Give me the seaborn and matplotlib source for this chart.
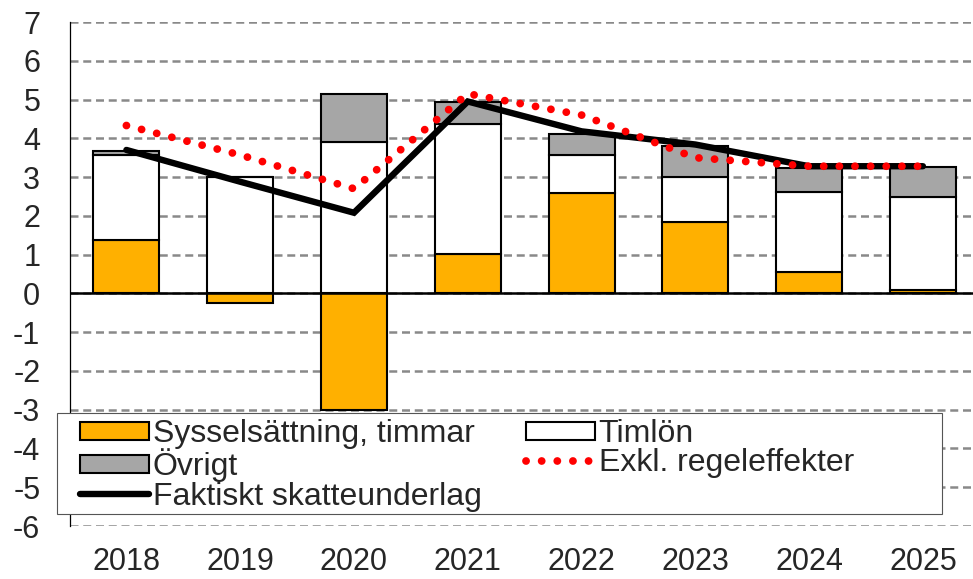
import numpy as np
import matplotlib.pyplot as plt
import seaborn as sns
from matplotlib.patches import Patch, Rectangle
from matplotlib.lines import Line2D

# values (percent change)
years = ['2018', '2019', '2020', '2021', '2022', '2023', '2024', '2025']
sysselsattning = [1.37, -0.25, -3.00, 1.02, 2.58, 1.83, 0.55, 0.10]
timlon = [2.21, 3.00, 3.90, 3.36, 1.00, 1.18, 2.06, 2.39]
ovrigt = [0.10, 0.00, 1.23, 0.56, 0.54, 0.80, 0.62, 0.77]
faktiskt = [3.70, 2.88, 2.08, 4.95, 4.18, 3.84, 3.28, 3.28]
exkl_regel = [4.33, 3.57, 2.70, 5.15, 4.60, 3.50, 3.28, 3.28]

ORANGE = '#FFB000'
GRAY = '#A6A6A6'

sns.set_style('white')
plt.rcParams['font.family'] = ['Liberation Sans', 'DejaVu Sans']
plt.rcParams['axes.unicode_minus'] = False

fig = plt.figure(figsize=(9.73, 5.79), dpi=100)
ax = fig.add_axes([69.5 / 973, 1 - 526 / 579, 1 - 69.5 / 973, (526 - 22) / 579])

# stacking: positive parts build up from zero, negative parts go below
syss = np.array(sysselsattning)
base_tim = np.clip(syss, 0, None)
base_ovr = base_tim + np.array(timlon)

bar_kw = dict(width=0.58, edgecolor='black', linewidth=1.5, saturation=1, zorder=3)
sns.barplot(x=years, y=sysselsattning, color=ORANGE, ax=ax, **bar_kw)
sns.barplot(x=years, y=timlon, bottom=base_tim, color='white', ax=ax, **bar_kw)
sns.barplot(x=years, y=ovrigt, bottom=base_ovr, color=GRAY, ax=ax, **bar_kw)

xpos = np.arange(len(years))
sns.lineplot(x=xpos, y=faktiskt, color='black', linewidth=4.6, ax=ax,
             solid_capstyle='round', solid_joinstyle='miter', zorder=4)
sns.lineplot(x=xpos, y=exkl_regel, color='#FF0000', linewidth=5.6, ax=ax,
             linestyle=(0, (0.01, 2.0)), dash_capstyle='round', zorder=5)

ax.axhline(0, color='black', linewidth=1.8, zorder=3.5)

ax.set_ylim(-6, 7)
ax.set_xlim(-0.5, 7.44)
ax.set_yticks(range(-6, 8))
ax.yaxis.grid(True, color='#898989', linewidth=1.8, linestyle=(0, (3.2, 1.9)))
ax.set_axisbelow(True)
for side in ['top', 'right', 'bottom']:
    ax.spines[side].set_visible(False)
ax.spines['left'].set_color('black')
ax.spines['left'].set_linewidth(0.9)
ax.tick_params(axis='y', length=0, pad=21, labelsize=22)
ax.tick_params(axis='x', length=0, pad=15, labelsize=22)
ax.set_xlabel('')
ax.set_ylabel('')

# legend box
fig.add_artist(Rectangle((57 / 973, 1 - 514 / 579), 885 / 973, 101 / 579,
                         transform=fig.transFigure, facecolor='white',
                         edgecolor='#555555', linewidth=0.8, zorder=2))
handles = [
    Patch(facecolor=ORANGE, edgecolor='black', linewidth=1.5),
    Patch(facecolor=GRAY, edgecolor='black', linewidth=1.5),
    Line2D([], [], color='black', linewidth=4.6, solid_capstyle='round'),
    Patch(facecolor='white', edgecolor='black', linewidth=1.5),
    Line2D([], [], color='#FF0000', linewidth=5.6, linestyle=(0, (0.01, 2.0)),
           dash_capstyle='round'),
]
labels = ['Sysselsättning, timmar', 'Övrigt', 'Faktiskt skatteunderlag',
          'Timlön', 'Exkl. regeleffekter']
fig.legend(handles, labels, ncol=2, loc='upper left',
           bbox_to_anchor=(80 / 973, 1 - 419 / 579), bbox_transform=fig.transFigure,
           frameon=False, fontsize=23, borderpad=0, borderaxespad=0,
           handlelength=2.15, handleheight=0.5, handletextpad=0.12,
           labelspacing=-0.02, columnspacing=1.4)

fig.savefig('out.png', dpi=100)
